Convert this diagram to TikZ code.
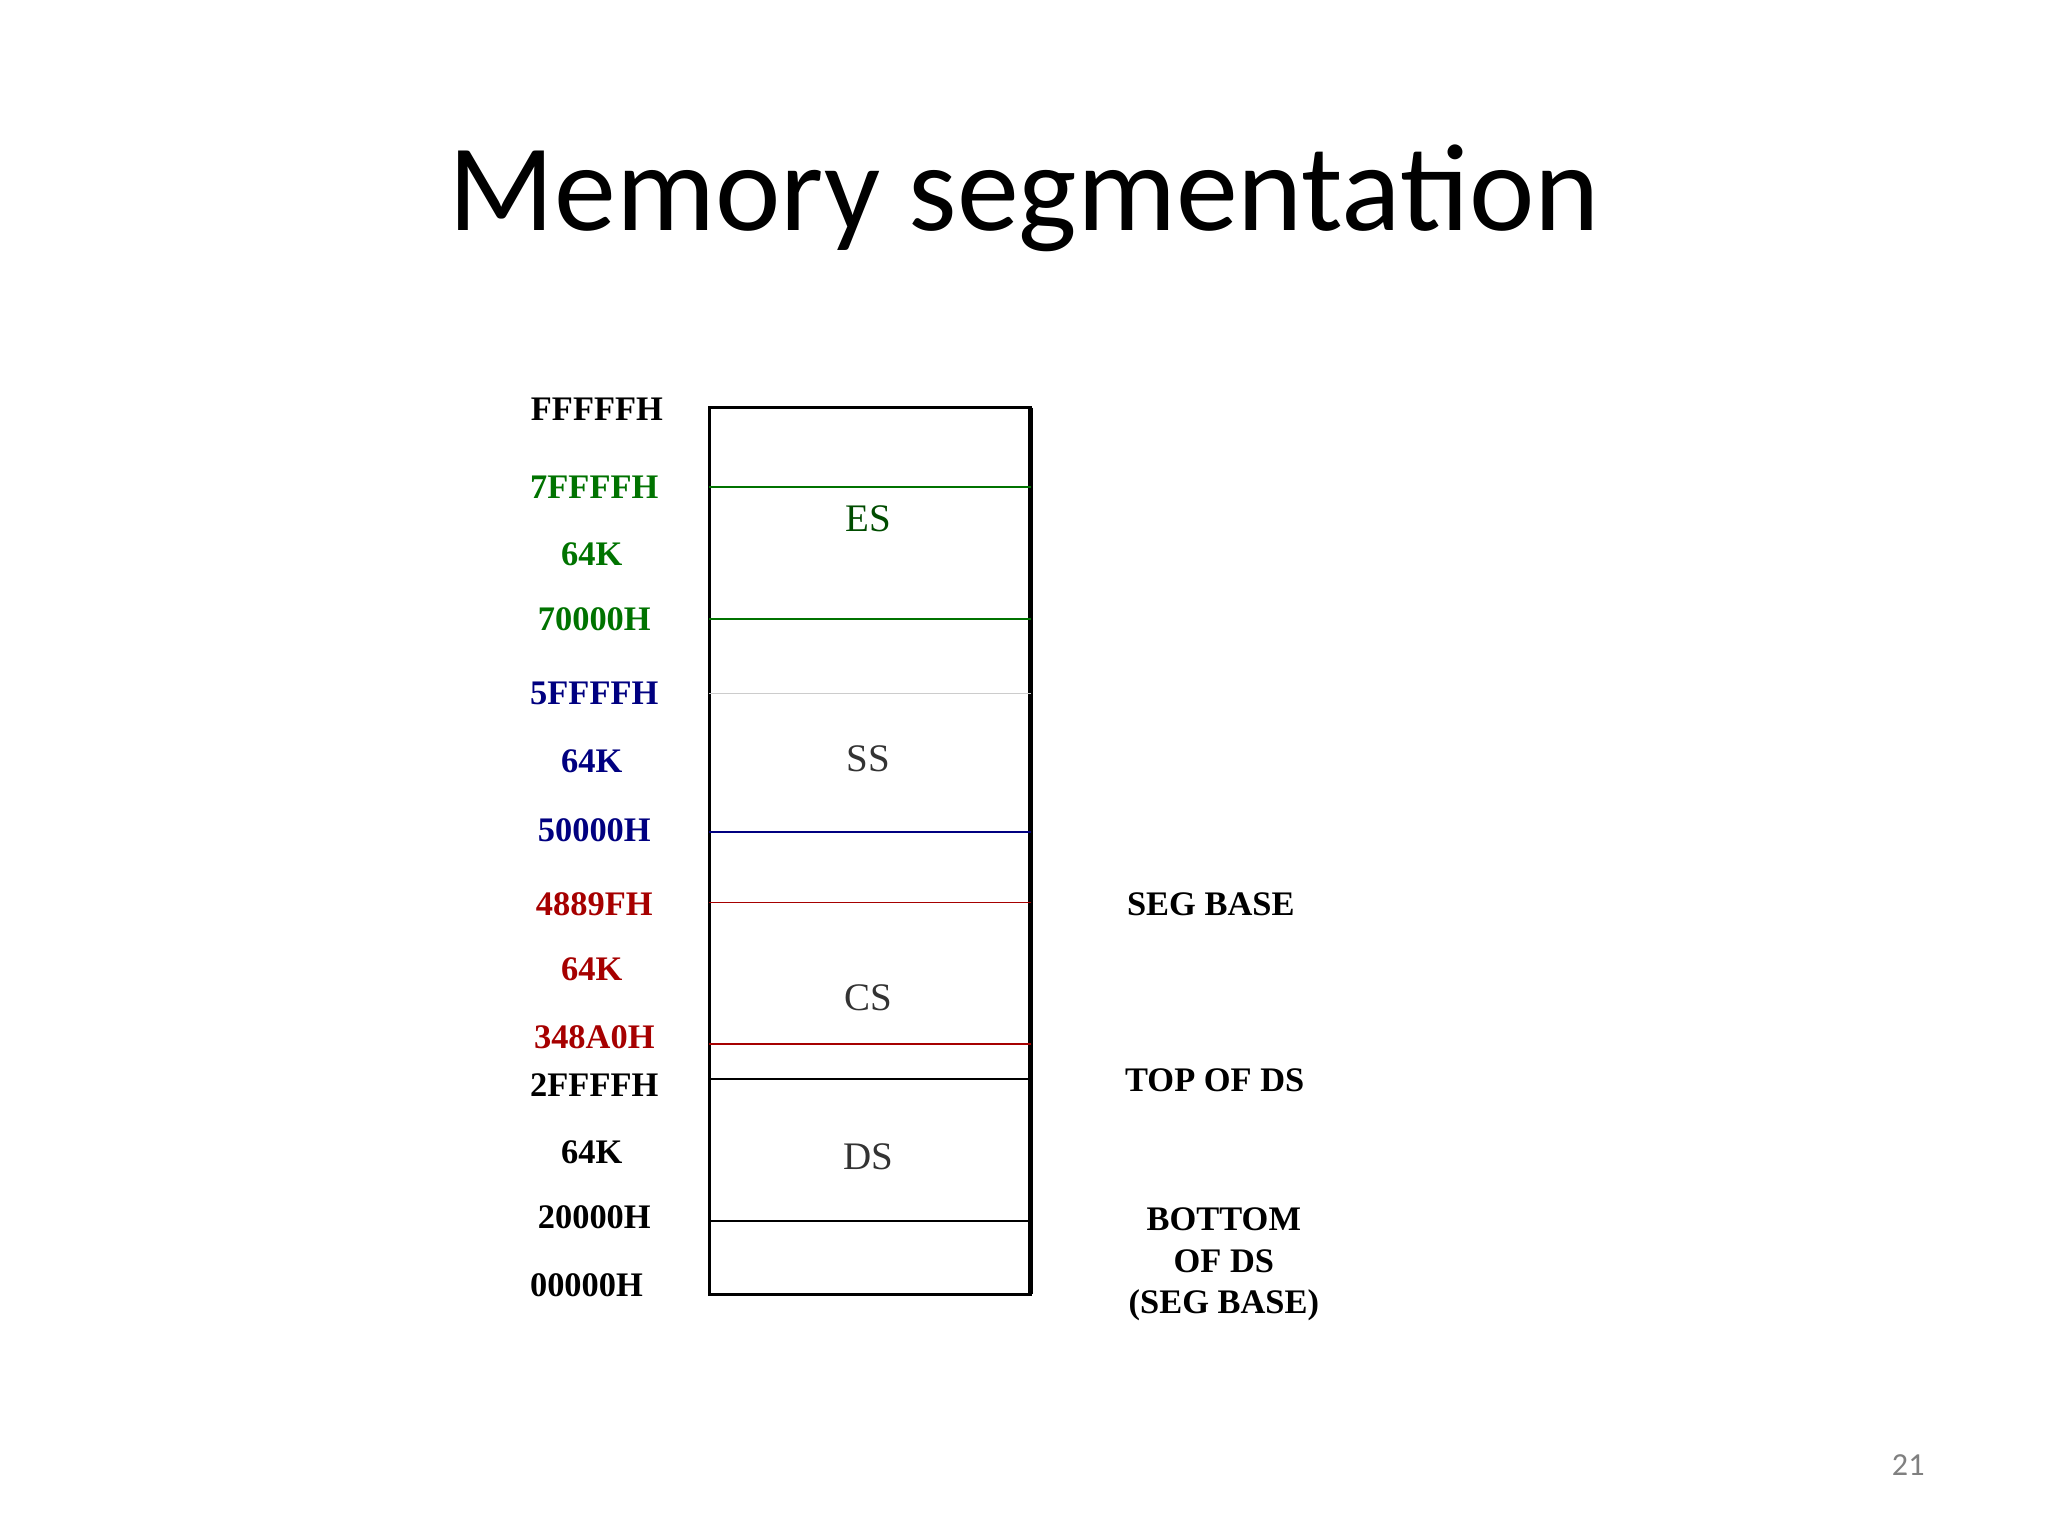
\documentclass[tikz,border=0pt]{standalone}
\usepackage{fontspec}
\setmainfont{Liberation Serif}
\newfontfamily\titlefont{Carlito}
\begin{document}
\begin{tikzpicture}[x=0.02cm,y=-0.02cm,
  lab/.style={font=\bfseries\fontsize{15}{17}\selectfont},
  seg/.style={font=\fontsize{17}{19}\selectfont,text=black!80},
  gl/.style={green!45!black},
  bl/.style={blue!50!black},
  rd/.style={red!65!black}]
\useasboundingbox (0,0) rectangle (1568,1176);
\node[font=\titlefont\fontsize{54}{62}\selectfont] (title) at (784,152) {Memory segmentation};
\node[font=\titlefont\fontsize{14}{16}\selectfont,text=gray] (pg) at (1461,1122) {21};
\draw[line width=1.2pt] (543,312) rectangle (789,991);
\draw[line width=2.2pt] (789,312) -- (789,991);
\draw[gl,line width=0.8pt] (543,373) -- (789,373);
\draw[gl,line width=0.8pt] (543,474) -- (789,474);
\draw[gray!40,line width=0.8pt] (543,531) -- (789,531);
\draw[bl,line width=0.8pt] (543,637) -- (789,637);
\draw[rd,line width=0.8pt] (543,691) -- (789,691);
\draw[rd,line width=0.8pt] (543,799) -- (789,799);
\draw[line width=0.8pt] (543,826) -- (789,826);
\draw[line width=0.8pt] (543,935) -- (789,935);
\node[lab] (a1) at (457,313) {FFFFFH};
\node[lab,gl] (a2) at (455,373) {7FFFFH};
\node[lab,gl] (a3) at (453,424) {64K};
\node[lab,gl] (a4) at (455,474) {70000H};
\node[lab,bl] (a5) at (455,531) {5FFFFH};
\node[lab,bl] (a6) at (453,583) {64K};
\node[lab,bl] (a7) at (455,636) {50000H};
\node[lab,rd] (a8) at (455,692) {4889FH};
\node[lab,rd] (a9) at (453,742) {64K};
\node[lab,rd] (a10) at (455,794) {348A0H};
\node[lab] (a11) at (455,831) {2FFFFH};
\node[lab] (a12) at (453,882) {64K};
\node[lab] (a13) at (455,932) {20000H};
\node[lab] (a14) at (449,984) {00000H};
\node[seg,text=green!30!black] (es) at (665,397) {ES};
\node[seg] (ss) at (665,581) {SS};
\node[seg] (cs) at (665,764) {CS};
\node[seg] (ds) at (665,886) {DS};
\node[lab] (r1) at (927,692) {SEG BASE};
\node[lab] (r2) at (930,827) {TOP OF DS};
\node[lab,align=center,font=\bfseries\fontsize{15}{18}\selectfont] (r3) at (937,968) {BOTTOM\\OF DS\\(SEG BASE)};
\end{tikzpicture}
\end{document}
